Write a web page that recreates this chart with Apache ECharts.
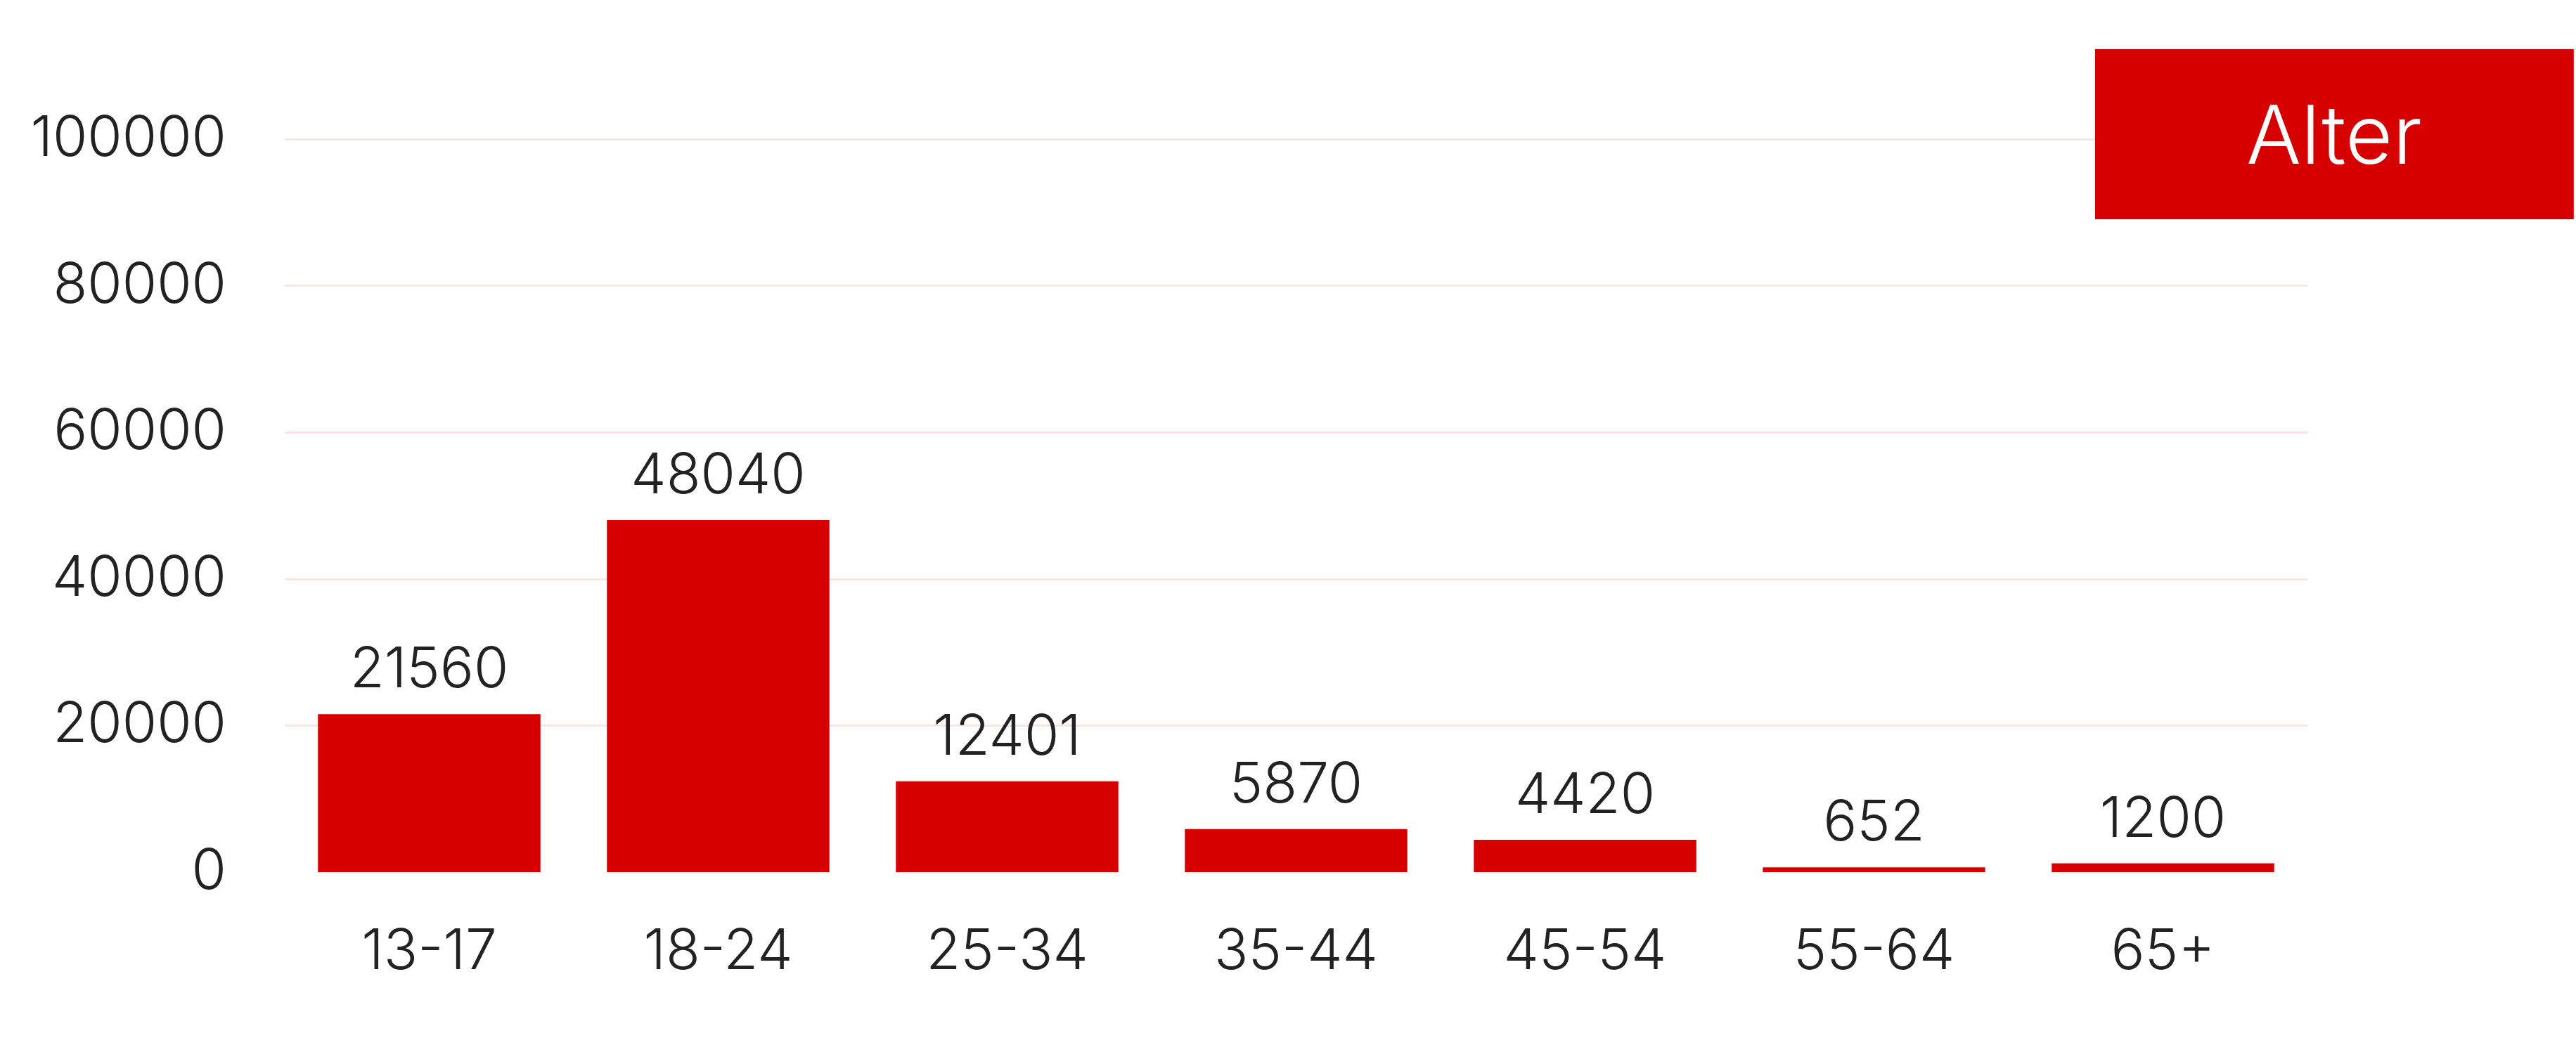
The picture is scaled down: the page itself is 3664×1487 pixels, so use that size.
<!DOCTYPE html>
<html>
<head>
<meta charset="utf-8">
<script src="https://cdn.jsdelivr.net/npm/echarts@6/dist/echarts.min.js"></script>
<style>
html,body{margin:0;padding:0;background:#fff;}
#chart{width:3664px;height:1487px;}
</style>
</head>
<body>
<div id="chart"></div>
<script>
const categories = ['13-17', '18-24', '25-34', '35-44', '45-54', '55-64', '65+'];
const values = [21560, 48040, 12401, 5870, 4420, 652, 1200];
const seriesName = 'Alter';
const yMin = 0, yMax = 100000, yInterval = 20000;

const FONT = 'Inter';
const chart = echarts.init(document.getElementById('chart'));
chart.setOption({
  backgroundColor: '#ffffff',
  animation: false,
  grid: { left: 405, right: 382, top: 198, bottom: 246, containLabel: false },
  legend: {
    data: [seriesName],
    left: 2980, top: 70,
    icon: 'none', itemWidth: 0, itemHeight: 0, itemGap: 0,
    backgroundColor: '#d70000',
    padding: [69, 216, 55, 210],
    textStyle: { color: '#ffffff', fontSize: 116, fontFamily: FONT, fontWeight: 300, lineHeight: 118 }
  },
  xAxis: {
    type: 'category', data: categories,
    axisLine: { show: false }, axisTick: { show: false },
    axisLabel: { color: '#222222', fontSize: 80, fontFamily: FONT, fontWeight: 300, margin: 74 }
  },
  yAxis: {
    type: 'value', min: yMin, max: yMax, interval: yInterval,
    axisLine: { show: false }, axisTick: { show: false },
    axisLabel: { color: '#222222', fontSize: 80, fontFamily: FONT, fontWeight: 300, margin: 83,
      formatter: function (v) { return String(v); } },
    splitLine: { show: true, lineStyle: { color: '#fde3e3', width: 3 },
      showMinLine: false }
  },
  series: [{
    name: seriesName, type: 'bar', data: values,
    barWidth: '77%',
    itemStyle: { color: '#d70000' },
    label: { show: true, position: 'top', distance: 22, color: '#222222', fontSize: 80, fontFamily: FONT, fontWeight: 300 }
  }]
});
</script>
</body>
</html>
